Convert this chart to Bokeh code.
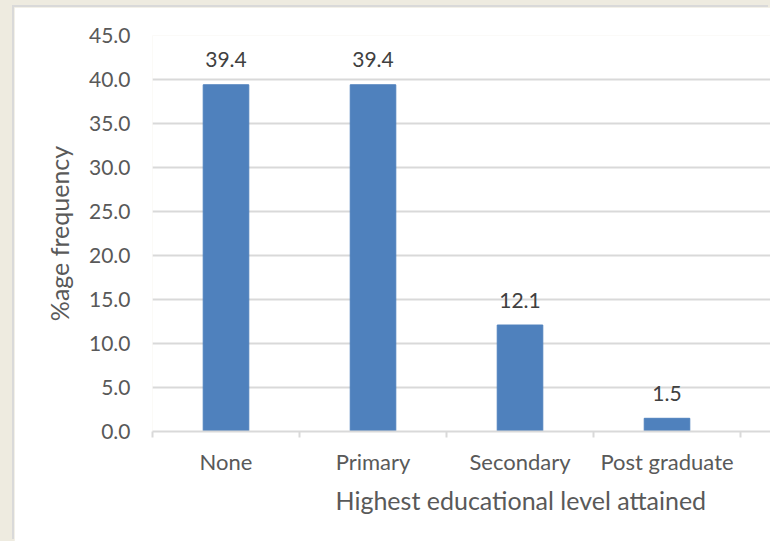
import numpy as np
from bokeh.plotting import figure
from bokeh.models import (Range1d, FixedTicker, NumeralTickFormatter, Title, Column)
from bokeh.core.properties import value
from bokeh.embed import file_html
from bokeh.resources import INLINE

# Share of respondents by highest educational level attained (%)
categories = ["None", "Primary", "Secondary", "Post graduate"]
percent = [39.4, 39.4, 12.1, 1.5]
y_ticks = [0, 5, 10, 15, 20, 25, 30, 35, 40, 45]

FONT = "Lato"
TICK_COLOR = "#595959"
LABEL_COLOR = "#404040"
GRID_COLOR = "#d9d9d9"
BAR_COLOR = "#4f81bd"

# bar centres sit in the middle of each category slot
centers = np.arange(len(categories)) + 0.5

p = figure(
    width=756, height=534,
    x_range=Range1d(0, 4.204), y_range=Range1d(0, 45),
    output_backend="svg", toolbar_location=None,
    min_border_left=138, min_border_right=0,
    min_border_top=28, min_border_bottom=110,
    margin=(7, 0, 0, 14),
    styles={"box-shadow": "-2px -2px 0 0 #d9d9d9"},
)
p.background_fill_color = "white"
p.border_fill_color = "white"
p.outline_line_color = None

p.vbar(x=centers, top=percent, width=0.31, fill_color=BAR_COLOR, line_color=BAR_COLOR)

p.text(x=centers, y=percent, text=[f"{v:.1f}" for v in percent],
       text_align="center", text_baseline="middle", y_offset=-25,
       text_font=value(FONT), text_font_size="21px", text_color=LABEL_COLOR)

# y axis
ya = p.yaxis[0]
ya.ticker = FixedTicker(ticks=y_ticks)
ya.formatter = NumeralTickFormatter(format="0.0")
ya.axis_line_color = None
ya.major_tick_line_color = None
ya.minor_tick_line_color = None
ya.major_tick_out = 0
ya.major_tick_in = 0
ya.major_label_standoff = 22
ya.major_label_text_font = FONT
ya.major_label_text_font_size = "21px"
ya.major_label_text_color = TICK_COLOR
ya.axis_label = "%age frequency"
ya.axis_label_text_font = FONT
ya.axis_label_text_font_size = "25px"
ya.axis_label_text_font_style = "normal"
ya.axis_label_text_color = TICK_COLOR
ya.axis_label_standoff = 12

# x axis: labels at slot centres, small ticks at slot boundaries
xa = p.xaxis[0]
xa.ticker = FixedTicker(ticks=list(centers), minor_ticks=list(range(len(categories) + 1)))
xa.major_label_overrides = {float(c): name for c, name in zip(centers, categories)}
xa.axis_line_color = GRID_COLOR
xa.axis_line_width = 2
xa.major_tick_line_color = None
xa.major_tick_out = 0
xa.major_tick_in = 0
xa.minor_tick_line_color = GRID_COLOR
xa.minor_tick_line_width = 2
xa.minor_tick_out = 6
xa.minor_tick_in = 0
xa.major_label_standoff = 10
xa.major_label_text_font = FONT
xa.major_label_text_font_size = "22px"
xa.major_label_text_color = TICK_COLOR

p.add_layout(Title(text="Highest educational level attained", align="left", offset=183,
                   text_font=FONT, text_font_size="25px", text_font_style="normal",
                   text_color=TICK_COLOR), "below")

p.xgrid.grid_line_color = None
p.ygrid.ticker = FixedTicker(ticks=y_ticks)
p.ygrid.grid_line_color = GRID_COLOR
p.ygrid.grid_line_width = 2

page = Column(p, styles={"background-color": "#eeebe0"})

open("out.html", "w").write(file_html(page, INLINE))
